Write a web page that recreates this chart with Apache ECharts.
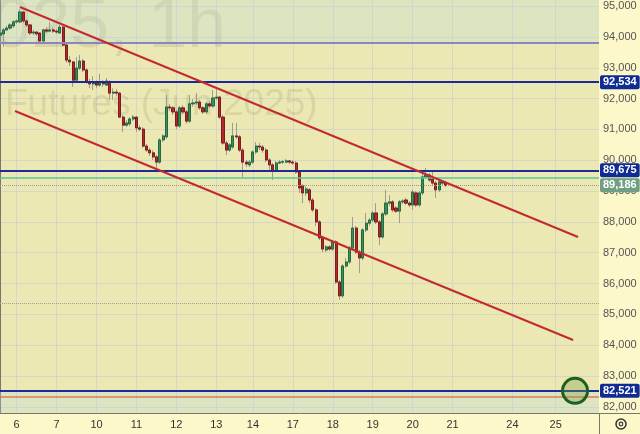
<!DOCTYPE html>
<html><head><meta charset="utf-8">
<script src="https://cdn.jsdelivr.net/npm/echarts@6/dist/echarts.min.js"></script>
<style>html,body{margin:0;padding:0;background:#fcf8c9}#c{width:640px;height:434px}</style>
</head><body><div id="c"></div><script>
// ---- data ----
const slotCount = 181; // hourly slots on the time axis (incl. empty future area)
const dayTicks = [[5,'6'],[17,'7'],[29,'10'],[41,'11'],[53,'12'],[65,'13'],[76,'14'],[88,'17'],[100,'18'],[112,'19'],[124,'20'],[136,'21'],[154,'24'],[167,'25']];
const priceTicks = [82000,83000,84000,85000,86000,87000,88000,89000,90000,91000,92000,93000,94000,95000];

const opens = [94060,94100,94230,94290,94360,94490,94490,94810,94520,94390,
94130,94160,94130,93870,94230,94190,94230,94190,94130,94320,
93740,93250,93190,92600,92990,93220,92930,92540,92480,92510,
92440,92510,92440,92540,92180,92210,92180,91400,91140,91180,
91340,91400,91050,91010,90460,90330,90240,90110,89940,90660,
90760,91730,91700,91570,91110,91700,91570,91270,91830,91860,
91890,91700,91570,91830,91760,92020,92050,91400,90560,90330,
90430,90790,90760,90330,89940,89850,89940,90270,90460,90430,
90330,90010,89850,89680,89910,89940,89940,89980,89940,89910,
89620,89170,88940,89040,88710,88390,88000,87480,87090,87190,
87120,87350,86050,85600,86570,86700,87150,87800,87020,86830,
87740,87960,88060,88290,88000,87510,88260,88610,88650,88450,
88350,88650,88710,88610,88550,88940,88550,88940,89460,89520,
89390,89260,89040,89300,89260];
const closes = [94130,94230,94290,94390,94490,94520,94810,94520,94390,94130,
94160,94100,93870,94230,94190,94230,94190,94160,94320,93740,
93250,93190,92600,92990,93220,92930,92540,92480,92510,92440,
92510,92480,92570,92180,92210,92180,91400,91140,91210,91340,
91400,91050,91010,90460,90330,90240,90110,89940,90660,90790,
91730,91700,91570,91110,91700,91570,91270,91830,91860,91890,
91700,91570,91830,91760,92020,92050,91400,90560,90330,90500,
90790,90760,90330,89940,89880,89940,90270,90460,90430,90330,
90010,89850,89680,89910,89940,89950,89980,89940,89910,89620,
89100,88940,89070,88710,88390,88000,87480,87120,87190,87120,
87350,86050,85600,86570,86700,87150,87800,87020,86830,87740,
87960,88060,88290,88000,87510,88260,88610,88650,88390,88350,
88650,88680,88610,88550,88970,88550,88940,89460,89520,89360,
89260,89040,89300,89260,89186];
const lows = [94000,93680,94190,94230,94290,94420,94450,94450,94320,94060,
94060,94030,93800,93840,94130,94160,94130,94100,94100,93680,
93160,93060,92380,92540,92930,92860,92480,92340,92280,92340,
92380,92380,92410,91960,91960,92090,91370,90920,91080,91110,
91270,90920,90950,90400,90270,90140,90010,89750,89880,90590,
90690,91600,91470,91010,91050,91500,91180,91210,91730,91790,
91630,91500,91500,91700,91700,91960,91340,90500,90170,90270,
90370,90690,90270,89430,89780,89780,89880,90200,90330,90240,
89940,89680,89360,89620,89880,89880,89910,89880,89850,89560,
88940,88610,88840,88610,88320,87870,87410,87020,87020,87060,
87060,85990,85470,85530,86510,86630,87090,86960,86340,86760,
87670,87870,88000,87930,87250,87450,88190,88520,88320,88290,
87960,88580,88550,88480,88390,88480,88480,88870,89430,89300,
89200,88780,88970,89200,89130];
const highs = [94190,94290,94360,94450,94550,94580,94910,94840,94580,94420,
94230,94190,94160,94260,94320,94490,94320,94260,94390,94360,
93770,93380,93220,93350,93420,93290,92990,92640,92730,92600,
92800,92600,92670,92600,92340,92310,92210,91470,91310,91400,
91470,91440,91140,91080,90530,90400,90330,90170,90720,90850,
92120,91830,91760,91630,91760,91790,91630,92120,91990,92180,
91960,91760,91890,91920,92280,92310,92090,91470,90630,90560,
91210,91210,90820,90400,90010,90010,90330,90590,90560,90500,
90400,90070,89910,89980,90010,90010,90040,90010,90010,89980,
89680,89230,89170,89100,88780,88450,88060,87540,87250,87250,
87410,87410,86120,86630,86830,87220,88160,87870,87090,87800,
88290,88130,88350,88610,88060,88320,89040,88870,88710,88520,
88710,88740,88780,88680,89040,89000,89000,89680,89750,89590,
89620,89330,89360,89330,89330];

const zoneTop = 93800;        // lower edge of the upper zone
const blueLevels = [92534, 89675, 82521];
const greenLevel = 89430;
const lastPrice = 89186;
const dottedLevel = 85370;
const orangeLevel = 82320;
const upperChannel = [[6, 94973], [173.7, 87511]];
const lowerChannel = [[4.5, 91599], [172.2, 84169]];
const targetPoint = [172.8, 82521];

// ---- build ----
const categories = Array.from({length: slotCount}, (_, i) => i);
const tickMap = {};
dayTicks.forEach(([s, l]) => { tickMap[s] = l; });
const wickData = opens.map((o, i) => [o, closes[i], lows[i], highs[i]]);
const bodyData = opens.map((o, i) => [o, closes[i], Math.min(o, closes[i]), Math.max(o, closes[i])]);
const fmt = v => Math.round(v).toLocaleString('en-US');

const tagLabel = (bg) => ({
  show: true, position: 'end', distance: 1, formatter: p => fmt(p.value),
  color: '#fff', fontSize: 11, fontWeight: 'bold', fontFamily: 'Liberation Sans, Arial, sans-serif',
  backgroundColor: bg, padding: [2, 3, 1, 3], borderRadius: 2
});

const chart = echarts.init(document.getElementById('c'), null, {renderer: 'canvas'});
chart.setOption({
  animation: false,
  backgroundColor: '#fcf8c9',
  grid: {left: 0, right: 41, top: 0, bottom: 21, show: true, backgroundColor: '#ebe8b3', borderWidth: 0},
  xAxis: [{
    type: 'category', data: categories, boundaryGap: false,
    axisLine: {lineStyle: {color: '#77776d', width: 1}},
    axisTick: {show: false},
    axisLabel: {interval: (i) => tickMap[i] !== undefined, formatter: (v, i) => tickMap[i] || '',
      color: '#333', fontSize: 11, margin: 6, fontFamily: 'Liberation Sans, Arial, sans-serif'},
    splitLine: {show: true, interval: (i) => tickMap[i] !== undefined, lineStyle: {color: '#d6d6c5', width: 1}}
  }, {
    type: 'value', min: 0, max: slotCount - 1, show: false
  }],
  yAxis: {
    type: 'value', position: 'right', min: 81800, max: 95200, scale: true,
    axisLine: {show: true, lineStyle: {color: '#77776d'}},
    axisTick: {show: false, customValues: priceTicks},
    axisLabel: {customValues: priceTicks, formatter: v => fmt(v), color: '#555', fontSize: 11, margin: 4,
      fontFamily: 'Liberation Sans, Arial, sans-serif'},
    splitLine: {show: true, lineStyle: {color: '#d6d6c5', width: 1}}
  },
  graphic: [
    {type: 'text', z: 1, silent: true, style: {text: '2025, 1h', x: 226, y: 28, align: 'right', verticalAlign: 'middle',
      font: '70px "Liberation Sans", Arial, sans-serif', fill: 'rgba(60,60,30,0.10)'}},
    {type: 'text', z: 1, silent: true, style: {text: 'Futures (Jun 2025)', x: 5, y: 105, align: 'left', verticalAlign: 'middle',
      font: '37px "Liberation Sans", Arial, sans-serif', fill: 'rgba(60,60,30,0.10)'}},
    {type: 'line', z: 10, silent: true, shape: {x1: 599.5, y1: 413, x2: 599.5, y2: 434}, style: {stroke: '#77776d', lineWidth: 1}},
    {type: 'line', z: 10, silent: true, shape: {x1: 599, y1: 413.5, x2: 640, y2: 413.5}, style: {stroke: '#77776d', lineWidth: 1}},
    {type: 'circle', z: 10, silent: true, shape: {cx: 621, cy: 424, r: 5}, style: {fill: 'none', stroke: '#333', lineWidth: 1.5}},
    {type: 'circle', z: 10, silent: true, shape: {cx: 621, cy: 424, r: 1.8}, style: {fill: 'none', stroke: '#333', lineWidth: 1.2}}
  ],
  series: [
    {
      name: 'levels', type: 'line', xAxisIndex: 1, data: [], z: 2, silent: true,
      markArea: {silent: true, itemStyle: {color: 'rgba(185,220,225,0.28)'}, data: [
        [{yAxis: zoneTop}, {yAxis: 95200}],
        [{yAxis: 81800}, {yAxis: blueLevels[2]}]
      ]},
      markLine: {silent: true, symbol: 'none', animation: false, label: {show: false}, data: [
        {yAxis: zoneTop, lineStyle: {color: '#8985c6', width: 2, type: 'solid'}},
        {yAxis: greenLevel, lineStyle: {color: '#58c993', width: 1.5, type: 'solid'}},
        {yAxis: dottedLevel, lineStyle: {color: '#a0a096', width: 1, type: 'dotted'}},
        {yAxis: orangeLevel, lineStyle: {color: '#df7a5c', width: 1.5, type: 'solid'}},
        {yAxis: lastPrice, lineStyle: {color: '#9a9a90', width: 1, type: 'dotted'}, label: tagLabel('#6f9f82')},
        {yAxis: blueLevels[0], lineStyle: {color: '#1a2a9c', width: 2, type: 'solid'}, label: tagLabel('#0f2c94')},
        {yAxis: blueLevels[1], lineStyle: {color: '#1a2a9c', width: 2, type: 'solid'}, label: tagLabel('#0f2c94')},
        {yAxis: blueLevels[2], lineStyle: {color: '#1a2a9c', width: 2, type: 'solid'}, label: tagLabel('#0f2c94')}
      ]}
    },
    {
      name: 'wicks', type: 'candlestick', data: wickData, z: 3, barWidth: 2.6, silent: true,
      itemStyle: {color: '#3a8f5f', color0: '#b3282d', borderColor: '#9d9d8e', borderColor0: '#9d9d8e', borderColorDoji: '#9d9d8e', borderWidth: 1}
    },
    {
      name: 'bodies', type: 'candlestick', data: bodyData, z: 4, barWidth: 2.6, silent: true,
      itemStyle: {color: '#3a8f5f', color0: '#b3282d', borderColor: '#23683f', borderColor0: '#7e1b1e', borderColorDoji: '#7e1b1e', borderWidth: 1}
    },
    {
      name: 'upper', type: 'line', xAxisIndex: 1, data: upperChannel, z: 6, symbol: 'none', silent: true,
      lineStyle: {color: '#c22a30', width: 2}
    },
    {
      name: 'lower', type: 'line', xAxisIndex: 1, data: lowerChannel, z: 6, symbol: 'none', silent: true,
      lineStyle: {color: '#c22a30', width: 2}
    },
    {
      name: 'target', type: 'scatter', xAxisIndex: 1, data: [targetPoint], z: 7, symbolSize: 25, silent: true,
      itemStyle: {color: 'rgba(120,160,70,0.35)', borderColor: '#1e5e1f', borderWidth: 3, opacity: 1}
    }
  ]
});
</script></body></html>
